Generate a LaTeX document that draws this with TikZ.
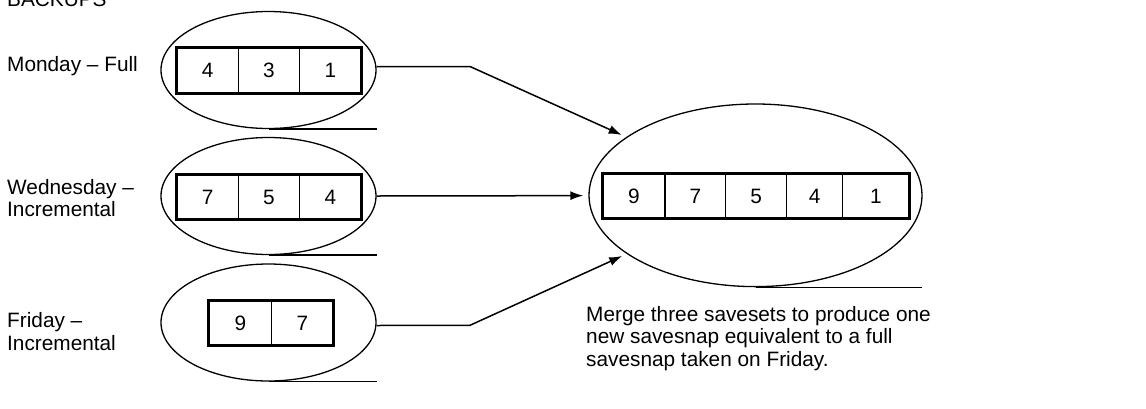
\documentclass[tikz,border=0pt]{standalone}
\usepackage{fontspec}
\setmainfont{Liberation Sans}
\usetikzlibrary{shapes.geometric,arrows.meta,calc}
\begin{document}
\begin{tikzpicture}[x=1pt,y=-1pt,
  lbl/.style={anchor=base west,inner sep=0pt,font=\fontsize{20.8}{22.4}\selectfont,align=left},
  oval/.style={draw,ellipse,line width=1.3pt,inner sep=0pt},
  cell/.style={draw,line width=1.2pt,minimum height=44pt,inner sep=0pt,font=\fontsize{20.8}{22.2}\selectfont},
  frame/.style={line width=3pt},
  conn/.style={line width=1.5pt},
  arr/.style={conn,-{Latex[length=13pt,width=9pt]},shorten >=5pt}
]
\useasboundingbox (0,0) rectangle (1146,408);

% labels (multi-line nodes are anchored at their last baseline)
\node[lbl] (backups) at (7,6) {BACKUPS};
\node[lbl] (lmon) at (7,71) {Monday – Full};
\node[lbl] (lwed) at (7,216.7) {Wednesday –\\Incremental};
\node[lbl] (lfri) at (7,350) {Friday –\\Incremental};
\node[lbl] (note) at (586,366) {Merge three savesets to produce one\\new savesnap equivalent to a full\\savesnap taken on Friday.};

% ellipses
\node[oval,minimum width=215pt,minimum height=117pt] (mon) at (268.5,70) {};
\node[oval,minimum width=215pt,minimum height=117pt] (wed) at (268.5,196) {};
\node[oval,minimum width=215pt,minimum height=117pt] (fri) at (268.5,322.5) {};
\node[oval,minimum width=333pt,minimum height=182.6pt] (big) at (755.5,195.3) {};

% Monday cells
\node[cell,minimum width=61.33pt] (m1) at (207.67,70.5) {4};
\node[cell,minimum width=61.33pt] (m2) at (269,70.5) {3};
\node[cell,minimum width=61.33pt] (m3) at (330.33,70.5) {1};
\draw[frame] (m1.north west) rectangle (m3.south east);

% Wednesday cells
\node[cell,minimum width=61.33pt] (w1) at (207.67,197) {7};
\node[cell,minimum width=61.33pt] (w2) at (269,197) {5};
\node[cell,minimum width=61.33pt] (w3) at (330.33,197) {4};
\draw[frame] (w1.north west) rectangle (w3.south east);

% Friday cells
\node[cell,minimum width=62pt] (f1) at (240.3,323) {9};
\node[cell,minimum width=62pt] (f2) at (302.3,323) {7};
\draw[frame] (f1.north west) rectangle (f2.south east);

% merged cells
\node[cell,minimum width=62.3pt] (b1) at (633.85,196.2) {9};
\node[cell,minimum width=60.7pt] (b2) at (695.35,196.2) {7};
\node[cell,minimum width=61pt] (b3) at (756.2,196.2) {5};
\node[cell,minimum width=56pt] (b4) at (814.7,196.2) {4};
\node[cell,minimum width=66.6pt] (b5) at (876,196.2) {1};
\draw[frame] (b1.north west) rectangle (b5.south east);

% underlines
\draw[conn] (mon.south) -- ++(108,0);
\draw[conn] (wed.south) -- ++(108,0);
\draw[conn] (fri.south) -- ++(108,0);
\draw[conn] (big.south) -- ++(166.5,0);

% arrows
\coordinate (bm) at (470,66.5);
\coordinate (bf) at (470,325.3);
\draw[arr] ([yshift=3.5pt]mon.east) -- (bm) -- (big);
\draw[arr] (wed.east) -- (big);
\draw[arr] ([yshift=-3pt]fri.east) -- (bf) -- (big);
\end{tikzpicture}
\end{document}
